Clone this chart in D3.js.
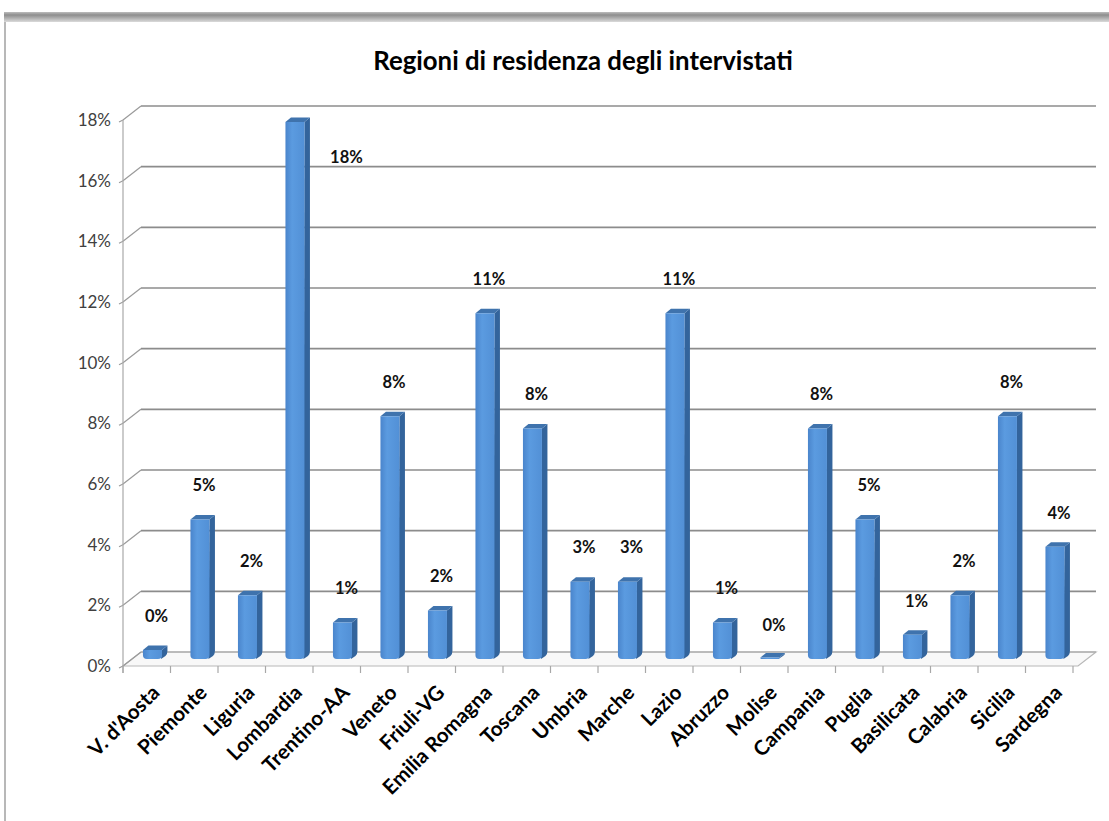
<!DOCTYPE html>
<html>
<head>
<meta charset="utf-8">
<script src="https://cdn.jsdelivr.net/npm/d3@7"></script>
<style>
  html, body { margin: 0; padding: 0; background: #fff; }
  svg { display: block; }
</style>
</head>
<body>
<script>
// ---- data ----
const titleText = "Regioni di residenza degli intervistati";
const categories = ["V. d'Aosta", "Piemonte", "Liguria", "Lombardia", "Trentino-AA", "Veneto",
  "Friuli-VG", "Emilia Romagna", "Toscana", "Umbria", "Marche", "Lazio", "Abruzzo", "Molise",
  "Campania", "Puglia", "Basilicata", "Calabria", "Sicilia", "Sardegna"];
const values = [0.003, 0.046, 0.021, 0.177, 0.012, 0.080, 0.016, 0.114, 0.076, 0.0255,
  0.0255, 0.114, 0.012, 0.000, 0.076, 0.046, 0.008, 0.021, 0.080, 0.037];
const yTicks = [0, 0.02, 0.04, 0.06, 0.08, 0.10, 0.12, 0.14, 0.16, 0.18];

// ---- layout ----
const W = 1109, H = 821;
const svg = d3.select("body").append("svg").attr("width", W).attr("height", H);
const defs = svg.append("defs");

const x = d3.scaleBand().domain(categories).range([123, 1073]).paddingInner(0).paddingOuter(0);
const y = d3.scaleLinear().domain([0, 0.18]).range([666, 120]);
const DX = 18, DY = -14;           // wall depth
const BX = DX / 2, BY = DY / 2;    // bar depth plane
const barW = 19, sideX = 5.5, sideY = -4.5;

// top band + left border
const bandGrad = defs.append("linearGradient").attr("id", "band").attr("x1", 0).attr("y1", 0).attr("x2", 0).attr("y2", 1);
bandGrad.append("stop").attr("offset", "0%").attr("stop-color", "#bdbdbd");
bandGrad.append("stop").attr("offset", "30%").attr("stop-color", "#8e8e8e");
bandGrad.append("stop").attr("offset", "100%").attr("stop-color", "#dadada");
svg.append("rect").attr("x", 4).attr("y", 12).attr("width", W - 4).attr("height", 10).attr("fill", "url(#band)");
svg.append("line").attr("x1", 5).attr("x2", 5).attr("y1", 22).attr("y2", H).attr("stroke", "#a0a0a0").attr("stroke-width", 1.5);

// title
const title = svg.append("text").attr("x", 583).attr("y", 70).attr("text-anchor", "middle")
  .attr("font-family", "Lato, 'Open Sans', sans-serif").attr("font-weight", "bold")
  .attr("font-size", 22).attr("fill", "#000").text(titleText);
const tl = title.node().getComputedTextLength();
if (tl > 0) title.attr("font-size", 22 * 420 / tl);

// floor
const x0 = x.range()[0], x1 = 1078;
svg.append("path")
  .attr("d", `M${x0},${y(0)} L${x1},${y(0)} L${x1 + DX},${y(0) + DY} L${x0 + DX},${y(0) + DY} Z`)
  .attr("fill", "#f8f8f8").attr("stroke", "#b8b8b8").attr("stroke-width", 1.2);

// gridlines (back wall) + left wall diagonals
const grid = svg.append("g");
yTicks.forEach(t => {
  const yy = y(t);
  grid.append("line").attr("x1", x0 - 4).attr("x2", x0).attr("y1", yy + 2).attr("y2", yy)
    .attr("stroke", "#9a9a9a").attr("stroke-width", 1.2);
  grid.append("line").attr("x1", x0).attr("x2", x0 + DX).attr("y1", yy).attr("y2", yy + DY)
    .attr("stroke", "#9a9a9a").attr("stroke-width", 1.2);
  grid.append("line").attr("x1", x0 + DX).attr("x2", x1 + DX).attr("y1", yy + DY).attr("y2", yy + DY)
    .attr("stroke", t === 0 ? "#b0b0b0" : "#8c8c8c").attr("stroke-width", 1.6);
});
// vertical axis line (front)
svg.append("line").attr("x1", x0).attr("x2", x0).attr("y1", y(0.18)).attr("y2", y(0) + 7)
  .attr("stroke", "#a8a8a8").attr("stroke-width", 1.2);

// category ticks on floor front edge
const bounds = categories.map(c => x(c)).concat([x.range()[1]]);
svg.append("g").selectAll("line").data(bounds).join("line")
  .attr("x1", d => d).attr("x2", d => d).attr("y1", y(0)).attr("y2", y(0) + 7)
  .attr("stroke", "#a8a8a8").attr("stroke-width", 1.2);

// y labels
svg.append("g").selectAll("text").data(yTicks).join("text")
  .attr("x", 111).attr("y", d => y(d)).attr("dy", "0.35em").attr("text-anchor", "end")
  .attr("font-family", "Lato, 'Open Sans', sans-serif").attr("font-size", 17).attr("fill", "#404040")
  .text(d => d3.format(".0%")(d));

// bars
const frontGrad = defs.append("linearGradient").attr("id", "front").attr("x1", 0).attr("y1", 0).attr("x2", 1).attr("y2", 0);
frontGrad.append("stop").attr("offset", "0%").attr("stop-color", "#4a85cc");
frontGrad.append("stop").attr("offset", "35%").attr("stop-color", "#5b9be0");
frontGrad.append("stop").attr("offset", "100%").attr("stop-color", "#5290d6");

const bars = svg.append("g").selectAll("g").data(categories.map((c, i) => ({ c, v: values[i] }))).join("g");
bars.each(function (d) {
  const g = d3.select(this);
  const L = x(d.c) + 0.42 * x.bandwidth();
  const R = L + barW;
  const B = y(0) + BY;
  const T = Math.min(y(d.v) + BY, B - 1.5);
  const r = Math.min(4, (B - T) / 2);
  // side
  g.append("path")
    .attr("d", `M${R},${T} L${R + sideX},${T + sideY} L${R + sideX},${B + sideY - r} Q${R + sideX},${B + sideY} ${R + sideX - 2},${B + sideY + 1.5} L${R - 1},${B} Z`)
    .attr("fill", "#33649c");
  // top
  g.append("path")
    .attr("d", `M${L},${T} L${L + sideX},${T + sideY} L${R + sideX},${T + sideY} L${R},${T} Z`)
    .attr("fill", "#3f73ad");
  // front
  g.append("path")
    .attr("d", `M${L},${T} L${R},${T} L${R},${B - r} Q${R},${B} ${R - r},${B} L${L + r},${B} Q${L},${B} ${L},${B - r} Z`)
    .attr("fill", "url(#front)");
});

// data labels
svg.append("g").selectAll("text").data(categories.map((c, i) => ({ c, v: values[i] }))).join("text")
  .attr("x", d => {
    const L = x(d.c) + 0.42 * x.bandwidth();
    const T = y(d.v) + BY;
    return (T - 34 < y(0.18) + DY) ? L + barW + 42 : L + barW / 2 + 4;
  })
  .attr("y", d => {
    const T = y(d.v) + BY;
    return (T - 34 < y(0.18) + DY) ? T + 35 : T - 34;
  })
  .attr("dy", "0.35em").attr("text-anchor", "middle")
  .attr("font-family", "Lato, 'Open Sans', sans-serif").attr("font-weight", "bold")
  .attr("font-size", 16.5).attr("fill", "#111")
  .text(d => Math.round(d.v * 100) + "%");

// x labels
svg.append("g").selectAll("text").data(categories).join("text")
  .attr("transform", d => `translate(${x(d) + x.bandwidth() / 2 + 14},${694}) rotate(-45)`)
  .attr("text-anchor", "end")
  .attr("font-family", "Lato, 'Open Sans', sans-serif").attr("font-weight", "bold")
  .attr("font-size", 20.5).attr("fill", "#000")
  .text(d => d);
</script>
</body>
</html>
